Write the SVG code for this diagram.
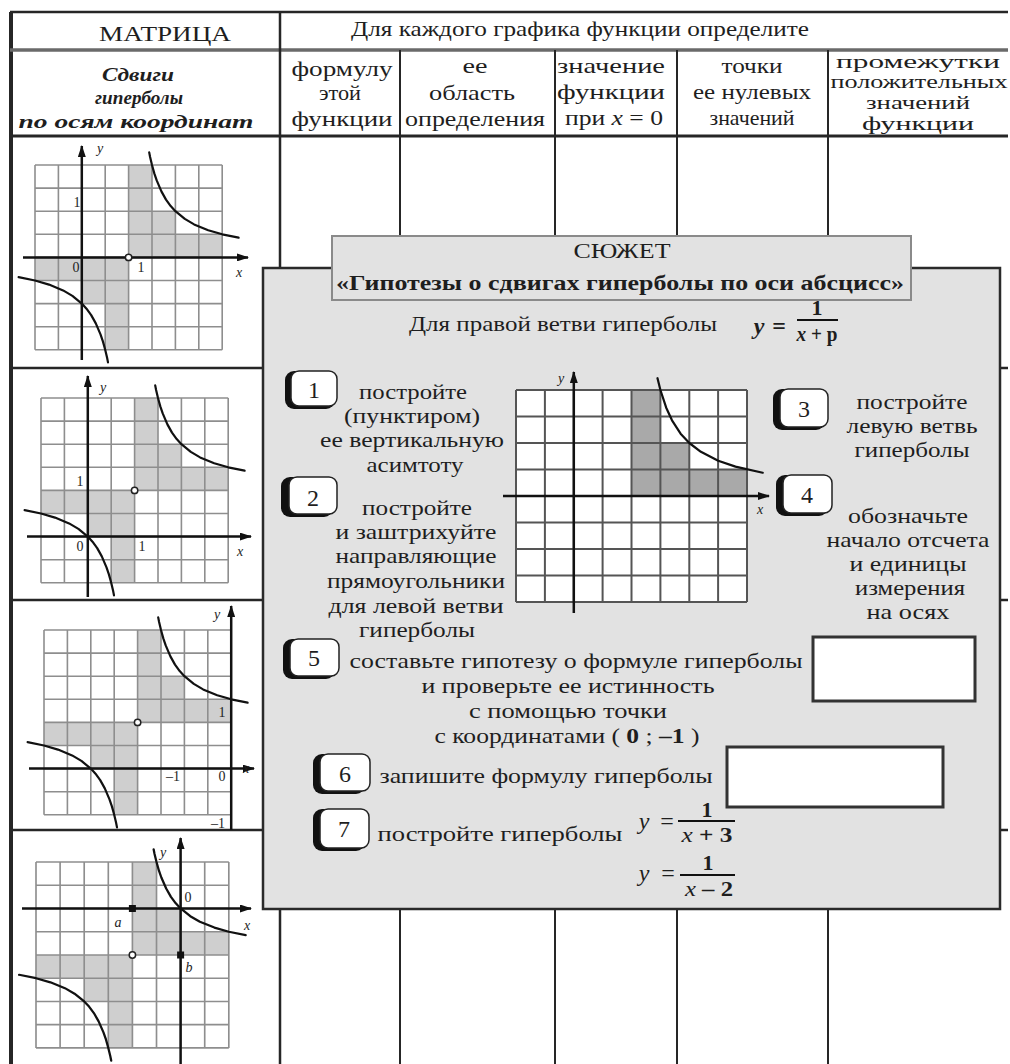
<svg xmlns="http://www.w3.org/2000/svg" xmlns:xlink="http://www.w3.org/1999/xlink" width="1010" height="1064" viewBox="0 0 1010 1064">
<style>
.t{font-family:"Liberation Serif","DejaVu Serif",serif;fill:#1e1e1e;text-anchor:middle}
.h{font-size:21px}
.b24{font-size:22px}
.lab{font-size:14px}
.it{font-style:italic}
.bd{font-weight:bold}
.tl{stroke:#262626;fill:none}
.ax{stroke:#111;stroke-width:2.5;fill:none}
.crv{stroke:#111;stroke-width:2.2;fill:none;stroke-linejoin:round;stroke-linecap:round}
.nbs{fill:#111}
.nbw{fill:#fff;stroke:#222;stroke-width:1.5}
.num{font-size:24px}
.oc{fill:#fff;stroke:#222;stroke-width:1.5}
</style>
<defs>
<marker id="ar" viewBox="0 0 12 8" refX="11" refY="4" markerWidth="12" markerHeight="8" markerUnits="userSpaceOnUse" orient="auto"><path d="M0,0 L12,4 L0,8 Z" fill="#111"/></marker>
<g id="hg">
<rect width="187.2" height="184.8" fill="#fff"/>
<path fill="#cfcfcf" d="M93.6,0 H117 V46.2 H140.4 V69.3 H187.2 V92.4 H93.6 Z M93.6,92.4 V184.8 H70.2 V138.6 H46.8 V115.5 H0 V92.4 Z"/>
<path fill="none" stroke="#8e8e8e" stroke-width="1.6" d="M0,0V184.8M23.4,0V184.8M46.8,0V184.8M70.2,0V184.8M93.6,0V184.8M117,0V184.8M140.4,0V184.8M163.8,0V184.8M187.2,0V184.8M0,0H187.2M0,23.1H187.2M0,46.2H187.2M0,69.3H187.2M0,92.4H187.2M0,115.5H187.2M0,138.6H187.2M0,161.7H187.2M0,184.8H187.2"/>
<path class="crv" d="M114.2,-12.6 L115.1,-8 L117,0 L119.3,8.4 L121.7,15.4 L126.4,26.4 L131,34.65 L135.7,41.1 L140.4,46.2 L149.8,53.9 L159.1,59.4 L173.2,65.2 L187.2,69.3 L203.6,72.7"/>
<path class="crv" d="M73,197.4 L72.1,192.8 L70.2,184.8 L67.9,176.4 L65.5,169.4 L60.8,158.4 L56.2,150.15 L51.5,143.7 L46.8,138.6 L37.4,130.9 L28.1,125.4 L14,119.6 L0,115.5 L-16.4,112.1"/>
</g>
</defs>
<rect width="1010" height="1064" fill="#fff"/>

<g id="table">
<path class="tl" stroke-width="2.5" d="M10,12 H1008"/>
<path class="tl" stroke-width="4" d="M11,12 V1064"/>
<path stroke="#6a6a6a" stroke-width="3.5" fill="none" d="M10,50 H1008"/>
<path class="tl" stroke-width="3" d="M10,136 H1008"/>
<path class="tl" stroke-width="2.5" d="M10,368 H1008 M10,600 H1008 M10,830 H1008"/>
<path class="tl" stroke-width="2.5" d="M280,12 V1064"/>
<path class="tl" stroke-width="2" d="M400,50 V1064 M555,50 V1064 M677,50 V1064 M828,50 V1064"/>
</g>

<g id="header">
<text class="t" x="165" y="41" font-size="22" textLength="132" lengthAdjust="spacingAndGlyphs">МАТРИЦА</text>
<text class="t h" x="580" y="36" textLength="458" lengthAdjust="spacingAndGlyphs">Для каждого графика функции определите</text>
<g class="t it bd" font-size="19">
<text class="t" x="138" y="81" textLength="72" lengthAdjust="spacingAndGlyphs">Сдвиги</text>
<text class="t" x="139" y="104" textLength="88" lengthAdjust="spacingAndGlyphs">гиперболы</text>
<text class="t" x="136" y="128" textLength="235" lengthAdjust="spacingAndGlyphs">по осям координат</text>
</g>
<text class="t h" x="342" y="76" textLength="101" lengthAdjust="spacingAndGlyphs">формулу</text>
<text class="t h" x="340" y="100" textLength="42" lengthAdjust="spacingAndGlyphs">этой</text>
<text class="t h" x="342" y="126" textLength="101" lengthAdjust="spacingAndGlyphs">функции</text>
<text class="t h" x="475" y="73" textLength="25" lengthAdjust="spacingAndGlyphs">ее</text>
<text class="t h" x="472" y="100" textLength="86" lengthAdjust="spacingAndGlyphs">область</text>
<text class="t h" x="475" y="126" textLength="140" lengthAdjust="spacingAndGlyphs">определения</text>
<text class="t h" x="611" y="73" textLength="108" lengthAdjust="spacingAndGlyphs">значение</text>
<text class="t h" x="611" y="99" textLength="108" lengthAdjust="spacingAndGlyphs">функции</text>
<text class="t h" x="614" y="125" textLength="98" lengthAdjust="spacingAndGlyphs">при <tspan class="it">x</tspan> = 0</text>
<text class="t h" x="752" y="73" textLength="61" lengthAdjust="spacingAndGlyphs">точки</text>
<text class="t h" x="752" y="99" textLength="118" lengthAdjust="spacingAndGlyphs">ее нулевых</text>
<text class="t h" x="752" y="125" textLength="85" lengthAdjust="spacingAndGlyphs">значений</text>
<text class="t" font-size="18" x="918" y="68" textLength="164" lengthAdjust="spacingAndGlyphs">промежутки</text>
<text class="t" font-size="18" x="919" y="88" textLength="177" lengthAdjust="spacingAndGlyphs">положительных</text>
<text class="t" font-size="18" x="918" y="109" textLength="104" lengthAdjust="spacingAndGlyphs">значений</text>
<text class="t" font-size="18" x="918" y="130" textLength="112" lengthAdjust="spacingAndGlyphs">функции</text>
</g>

<g id="graph1">
<use href="#hg" x="35" y="165"/>
<path class="ax" marker-end="url(#ar)" d="M23,257.4 H248"/>
<path class="ax" marker-end="url(#ar)" d="M81.8,360 V146"/>
<circle class="oc" cx="128.6" cy="257.4" r="3.2"/>
<text class="t lab it" x="100" y="153">y</text>
<text class="t lab it" x="239" y="277">x</text>
<text class="t lab" x="77" y="207">1</text>
<text class="t lab" x="76" y="272">0</text>
<text class="t lab" x="141" y="272">1</text>
</g>

<g id="graph2">
<use href="#hg" x="41" y="398"/>
<path class="ax" marker-end="url(#ar)" d="M27,536.6 H251"/>
<path class="ax" marker-end="url(#ar)" d="M87.8,597 V376"/>
<circle class="oc" cx="134.6" cy="490.4" r="3.2"/>
<text class="t lab it" x="103" y="392">y</text>
<text class="t lab it" x="240" y="556">x</text>
<text class="t lab" x="80" y="486">1</text>
<text class="t lab" x="80" y="551">0</text>
<text class="t lab" x="142" y="551">1</text>
</g>

<g id="graph3">
<use href="#hg" x="44" y="630"/>
<path class="ax" marker-end="url(#ar)" d="M29,768.6 H254"/>
<path class="ax" marker-end="url(#ar)" d="M231.2,830 V606"/>
<circle class="oc" cx="137.6" cy="722.4" r="3.2"/>
<text class="t lab it" x="217" y="619">y</text>
<text class="t lab it" x="246" y="773">x</text>
<text class="t lab" x="222" y="717">1</text>
<text class="t lab" x="173" y="781">–1</text>
<text class="t lab" x="222" y="781">0</text>
<text class="t lab" x="218" y="828">–1</text>
</g>

<g id="graph4">
<use href="#hg" transform="translate(36,862) scale(1.03,1.006)"/>
<path class="ax" marker-end="url(#ar)" d="M22,908.5 H251"/>
<path class="ax" marker-end="url(#ar)" d="M180.6,1064 V838"/>
<rect x="128.9" y="905" width="7" height="7" fill="#111"/>
<rect x="177.1" y="951.5" width="7" height="7" fill="#111"/>
<circle class="oc" cx="132.4" cy="955" r="3.2"/>
<text class="t lab it" x="163" y="857">y</text>
<text class="t lab it" x="247" y="930">x</text>
<text class="t lab" x="188" y="902">0</text>
<text class="t lab it" x="118" y="927">a</text>
<text class="t lab it" x="189" y="972">b</text>
</g>

<g id="plot-box">
<rect x="263" y="268" width="737" height="641" fill="#e2e2e2" stroke="#2a2a2a" stroke-width="2.5"/>
</g>

<g id="title">
<rect x="332" y="236" width="579" height="64" fill="#e2e2e2" stroke="#8a8a8a" stroke-width="2"/>
<text class="t" font-size="22" x="622" y="258" textLength="97" lengthAdjust="spacingAndGlyphs">СЮЖЕТ</text>
<text class="t bd" font-size="20" x="620" y="290" textLength="568" lengthAdjust="spacingAndGlyphs">«Гипотезы о сдвигах гиперболы по оси абсцисс»</text>
</g>

<g id="intro">
<text class="t" font-size="22" x="563" y="331" textLength="308" lengthAdjust="spacingAndGlyphs">Для правой ветви гиперболы</text>
<text class="t bd it" font-size="24" x="759" y="334">y</text>
<text class="t bd" font-size="24" x="779" y="334">=</text>
<text class="t bd" font-size="22" x="817" y="315">1</text>
<path d="M797,320 H838" stroke="#111" stroke-width="2"/>
<text class="t bd" font-size="22" x="817" y="341" textLength="41" lengthAdjust="spacingAndGlyphs"><tspan class="it">x</tspan> + p</text>
</g>

<g id="center-graph">
<rect x="516" y="390" width="231" height="212" fill="#fff"/>
<path fill="#a9a9a9" d="M631.5,390 H660.4 V443 H689.3 V469.5 H747 V496 H631.5 Z"/>
<path fill="none" stroke="#555" stroke-width="2" d="M516,390V602M544.9,390V602M573.8,390V602M602.6,390V602M631.5,390V602M660.4,390V602M689.3,390V602M718.1,390V602M747,390V602M516,390H747M516,416.5H747M516,443H747M516,469.5H747M516,496H747M516,522.5H747M516,549H747M516,575.5H747M516,602H747"/>
<path class="crv" d="M657.5,378.2 L660.4,390 L666.2,407.7 L672,420.3 L680.6,433.7 L689.3,443 L700.9,451.8 L718.2,460.7 L735.5,466.6 L762.7,472.7"/>
<path class="ax" marker-end="url(#ar)" d="M503,496 H769"/>
<path class="ax" marker-end="url(#ar)" d="M573.8,613 V372"/>
<text class="t lab it" x="561" y="383">y</text>
<text class="t lab it" x="760" y="514">x</text>
</g>

<g id="step1">
<rect class="nbs" x="285" y="371" width="50" height="38" rx="9"/>
<rect class="nbw" x="291" y="371" width="46" height="35" rx="8"/>
<text class="t num" x="314" y="398">1</text>
<text class="t b24" x="413" y="399" textLength="108" lengthAdjust="spacingAndGlyphs">постройте</text>
<text class="t b24" x="412" y="423" textLength="136" lengthAdjust="spacingAndGlyphs">(пунктиром)</text>
<text class="t b24" x="412" y="447" textLength="184" lengthAdjust="spacingAndGlyphs">ее вертикальную</text>
<text class="t b24" x="415" y="472" textLength="97" lengthAdjust="spacingAndGlyphs">асимтоту</text>
</g>

<g id="step2">
<rect class="nbs" x="281" y="477" width="52" height="40" rx="9"/>
<rect class="nbw" x="289" y="477" width="48" height="37" rx="8"/>
<text class="t num" x="313" y="506">2</text>
<text class="t b24" x="417" y="515" textLength="110" lengthAdjust="spacingAndGlyphs">постройте</text>
<text class="t b24" x="416" y="539" textLength="161" lengthAdjust="spacingAndGlyphs">и заштрихуйте</text>
<text class="t b24" x="416" y="563" textLength="161" lengthAdjust="spacingAndGlyphs">направляющие</text>
<text class="t b24" x="416" y="588" textLength="178" lengthAdjust="spacingAndGlyphs">прямоугольники</text>
<text class="t b24" x="416" y="613" textLength="175" lengthAdjust="spacingAndGlyphs">для левой ветви</text>
<text class="t b24" x="417" y="637" textLength="116" lengthAdjust="spacingAndGlyphs">гиперболы</text>
</g>

<g id="step3">
<rect class="nbs" x="773" y="389" width="52" height="41" rx="9"/>
<rect class="nbw" x="780" y="389" width="48" height="38" rx="8"/>
<text class="t num" x="804" y="417">3</text>
<text class="t b24" x="912" y="409" textLength="111" lengthAdjust="spacingAndGlyphs">постройте</text>
<text class="t b24" x="912" y="433" textLength="131" lengthAdjust="spacingAndGlyphs">левую ветвь</text>
<text class="t b24" x="912" y="457" textLength="115" lengthAdjust="spacingAndGlyphs">гиперболы</text>
</g>

<g id="step4">
<rect class="nbs" x="776" y="475" width="52" height="41" rx="9"/>
<rect class="nbw" x="783" y="475" width="49" height="38" rx="8"/>
<text class="t num" x="807" y="503">4</text>
<text class="t b24" x="908" y="523" textLength="120" lengthAdjust="spacingAndGlyphs">обозначьте</text>
<text class="t b24" x="908" y="547" textLength="163" lengthAdjust="spacingAndGlyphs">начало отсчета</text>
<text class="t b24" x="908" y="571" textLength="117" lengthAdjust="spacingAndGlyphs">и единицы</text>
<text class="t b24" x="910" y="595" textLength="110" lengthAdjust="spacingAndGlyphs">измерения</text>
<text class="t b24" x="908" y="619" textLength="83" lengthAdjust="spacingAndGlyphs">на осях</text>
</g>

<g id="step5">
<rect class="nbs" x="283" y="639" width="52" height="40" rx="9"/>
<rect class="nbw" x="290" y="639" width="49" height="37" rx="8"/>
<text class="t num" x="314" y="666">5</text>
<text class="t b24" x="576" y="668" textLength="453" lengthAdjust="spacingAndGlyphs">составьте гипотезу о формуле гиперболы</text>
<text class="t b24" x="568" y="693" textLength="293" lengthAdjust="spacingAndGlyphs">и проверьте ее истинность</text>
<text class="t b24" x="568" y="718" textLength="198" lengthAdjust="spacingAndGlyphs">с помощью точки</text>
<text class="t b24" x="567" y="743" textLength="265" lengthAdjust="spacingAndGlyphs">с координатами ( <tspan class="bd">0</tspan> ; <tspan class="bd">–1</tspan> )</text>
<rect x="813" y="637" width="162" height="64" fill="#fff" stroke="#333" stroke-width="3"/>
</g>

<g id="step6">
<rect class="nbs" x="313" y="754" width="52" height="40" rx="9"/>
<rect class="nbw" x="320" y="754" width="50" height="37" rx="8"/>
<text class="t num" x="345" y="782">6</text>
<text class="t b24" x="546" y="783" textLength="333" lengthAdjust="spacingAndGlyphs">запишите формулу гиперболы</text>
<rect x="727" y="747" width="216" height="60" fill="#fff" stroke="#333" stroke-width="3"/>
</g>

<g id="step7">
<rect class="nbs" x="313" y="809" width="52" height="42" rx="9"/>
<rect class="nbw" x="320" y="809" width="49" height="39" rx="8"/>
<text class="t num" x="344" y="837">7</text>
<text class="t b24" x="500" y="841" textLength="245" lengthAdjust="spacingAndGlyphs">постройте  гиперболы</text>
<text class="t it" font-size="24" x="644" y="829">y</text>
<text class="t" font-size="24" x="667" y="829">=</text>
<text class="t bd" font-size="22" x="707" y="817">1</text>
<path d="M678,821 H735" stroke="#111" stroke-width="2"/>
<text class="t" font-size="22" x="707" y="842" textLength="51" lengthAdjust="spacingAndGlyphs"><tspan class="it">x</tspan> <tspan class="bd">+ 3</tspan></text>
<text class="t it" font-size="24" x="644" y="881">y</text>
<text class="t" font-size="24" x="668" y="881">=</text>
<text class="t bd" font-size="22" x="708" y="870">1</text>
<path d="M680,875 H735" stroke="#111" stroke-width="2"/>
<text class="t" font-size="22" x="709" y="896" textLength="48" lengthAdjust="spacingAndGlyphs"><tspan class="it">x</tspan> <tspan class="bd">– 2</tspan></text>
</g>
</svg>
